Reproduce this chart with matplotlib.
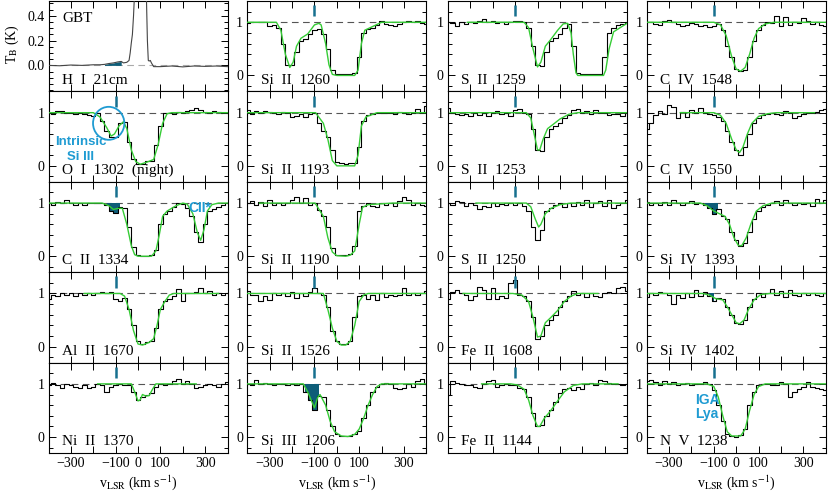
import numpy as np
import matplotlib.pyplot as plt
from matplotlib.patches import Ellipse
from matplotlib.ticker import MultipleLocator, FixedLocator

plt.rcParams['font.family'] = ['Liberation Serif', 'DejaVu Serif']
plt.rcParams['mathtext.fontset'] = 'stix'

GREEN = '#36cc36'
FILL = '#0e5d78'
MARK = '#17708f'
CYAN = '#1f9bd2'
SANS = ['Liberation Sans', 'DejaVu Sans']

# velocity bins (km/s) shared by all UV spectra
VEL = [-400, -380, -360, -340, -320, -300, -280, -260, -240, -220, -200,
       -180, -160, -140, -120, -100, -80, -60, -40, -20, 0,
       20, 40, 60, 80, 100, 120, 140, 160, 180, 200,
       220, 240, 260, 280, 300, 320, 340, 360, 380, 400]

# GBT HI 21cm
hi_vel = [-400, -350, -300, -250, -200, -170, -150, -130, -110, -90, -75, -65, -50, -40, -35,
          -30, -25, -20, -15, -10, 0, 10, 20, 30, 37, 42, 46, 50, 55, 60,
          70, 100, 150, 200, 250, 300, 350, 400]
hi_tb = [0.0, -0.003, 0.003, 0.0, 0.005, 0.005, 0.008, 0.015, 0.02, 0.028, 0.032, 0.02, 0.025, 0.04, 0.1,
         0.18, 0.25, 0.4, 0.6, 1.0, 1.3, 1.4, 1.3, 1.0, 0.6, 0.2, 0.04, 0.035, 0.04, 0.02,
         -0.01, -0.01, -0.005, -0.012, -0.005, -0.008, -0.005, -0.01]

# column 1
o1_1302 = [1.0, 0.97, 1.03, 1.03, 1.0, 1.0, 0.97, 1.0, 0.98, 0.95, 0.93, 1.0, 0.85, 0.65, 0.55, 0.55,
           0.8, 0.82, 0.45, 0.12, 0.04, 0.04, 0.1, 0.1, 0.4, 0.75, 1.0, 1.0, 0.97, 1.02, 1.0,
           1.03, 1.05, 1.08, 1.05, 1.02, 1.0, 1.03, 1.02, 1.0, 1.0]
o1_1302_mv = [-400, -200, -170, -140, -120, -105, -85, -65, -50, -30, -10, 10, 40, 70, 90, 110, 130, 150, 400]
o1_1302_mf = [1.0, 1.0, 0.92, 0.72, 0.56, 0.6, 0.75, 0.83, 0.7, 0.3, 0.08, 0.03, 0.07, 0.12, 0.4, 0.8, 0.98, 1.0, 1.0]

c2_1334 = [1.0, 0.97, 1.02, 1.0, 1.05, 1.0, 0.97, 1.0, 0.97, 1.0, 1.0, 1.0, 1.0, 0.97, 0.85, 0.82,
           0.92, 0.9, 0.55, 0.18, 0.02, 0.01, 0.01, 0.02, 0.12, 0.6, 0.8, 0.85, 0.92, 1.0, 0.98,
           0.9, 0.75, 0.45, 0.27, 0.6, 0.85, 0.88, 0.93, 0.97, 1.0]
c2_1334_mv = [-400, -160, -130, -110, -90, -70, -50, -30, -15, 0, 60, 80, 95, 110, 130, 170, 200,
              220, 245, 265, 280, 295, 310, 330, 360, 400]
c2_1334_mf = [1.0, 1.0, 0.95, 0.88, 0.9, 0.9, 0.6, 0.2, 0.03, 0.0, 0.0, 0.1, 0.4, 0.75, 0.85, 0.95, 1.0,
              0.98, 0.8, 0.45, 0.3, 0.5, 0.85, 0.97, 1.0, 1.0]

al2_1670 = [0.9, 0.97, 0.95, 1.0, 0.97, 1.0, 0.95, 1.0, 0.97, 1.0, 0.98, 1.0, 1.03, 1.0, 1.02, 0.9,
            0.85, 0.92, 0.7, 0.4, 0.1, 0.05, 0.08, 0.1, 0.35, 0.7, 0.85, 0.9, 0.95, 1.08, 0.85,
            1.0, 1.0, 1.02, 1.1, 1.0, 1.05, 0.97, 1.0, 0.97, 1.0]
al2_1670_mv = [-240, -80, -60, -40, -20, 0, 20, 50, 70, 85, 100, 120, 140, 160, 360]
al2_1670_mf = [1.0, 1.0, 0.95, 0.7, 0.3, 0.05, 0.03, 0.08, 0.15, 0.4, 0.7, 0.85, 0.97, 1.0, 1.0]

ni2_1370 = [0.98, 1.02, 0.97, 0.93, 1.0, 0.97, 0.95, 0.93, 0.97, 0.92, 0.95, 1.0, 0.97, 0.85, 0.95, 0.97,
            1.0, 0.97, 0.97, 0.85, 0.7, 0.75, 0.8, 0.82, 0.95, 1.0, 0.98, 1.0, 1.05, 1.1, 1.0,
            1.05, 1.0, 0.93, 0.95, 0.98, 1.0, 0.97, 0.95, 1.0, 1.03]
ni2_1370_mv = [-180, -30, -15, 0, 10, 20, 35, 50, 65, 80, 260]
ni2_1370_mf = [1.0, 1.0, 0.85, 0.68, 0.7, 0.8, 0.77, 0.78, 0.9, 1.0, 1.0]

# column 2
si2_1260 = [0.98, 1.0, 1.0, 1.0, 1.0, 0.93, 0.95, 0.9, 0.6, 0.2, 0.2, 0.45, 0.65, 0.68, 0.78, 0.85,
            0.88, 0.78, 0.5, 0.1, 0.03, 0.02, 0.02, 0.02, 0.05, 0.35, 0.8, 0.88, 0.9, 0.95, 1.02,
            0.97, 0.95, 0.93, 0.97, 1.0, 1.03, 1.0, 1.02, 0.98, 0.97]
si2_1260_mv = [-400, -270, -250, -230, -210, -195, -180, -160, -130, -100, -80, -70, -50, -35, -20, 0,
               80, 95, 110, 125, 160, 200, 400]
si2_1260_mf = [1.0, 1.0, 0.85, 0.4, 0.15, 0.25, 0.55, 0.7, 0.78, 0.95, 0.98, 0.95, 0.6, 0.2, 0.02, 0.0,
               0.0, 0.1, 0.6, 0.85, 0.92, 1.0, 1.0]

si2_1193 = [1.05, 0.97, 1.03, 1.0, 1.04, 1.02, 1.0, 0.98, 1.02, 1.0, 0.92, 0.93, 0.98, 0.92, 0.97, 1.0,
            0.8, 0.65, 0.55, 0.3, 0.08, 0.05, 0.03, 0.05, 0.05, 0.35, 0.85, 0.95, 0.97, 1.0, 1.0,
            1.0, 1.0, 0.97, 1.02, 1.0, 0.97, 1.0, 1.07, 1.0, 1.13]
si2_1193_mv = [-400, -95, -60, -40, -20, 0, 80, 95, 110, 130, 180, 400]
si2_1193_mf = [1.0, 1.0, 0.8, 0.5, 0.1, 0.0, 0.0, 0.2, 0.75, 0.92, 1.0, 1.0]

si2_1190 = [1.0, 1.03, 0.97, 1.02, 0.95, 1.05, 0.97, 1.0, 0.97, 1.0, 1.05, 1.12, 1.0, 1.1, 0.97, 1.0,
            0.87, 0.75, 0.55, 0.15, 0.03, 0.02, 0.02, 0.05, 0.2, 0.85, 0.95, 1.0, 0.95, 0.92, 1.0,
            0.97, 1.0, 0.95, 1.03, 1.12, 1.05, 0.97, 1.0, 0.97, 0.95]
si2_1190_mv = [-345, -97, -60, -40, -20, 0, 40, 60, 80, 100, 115, 140, 250, 400]
si2_1190_mf = [1.0, 1.0, 0.75, 0.35, 0.08, 0.01, 0.0, 0.02, 0.1, 0.6, 0.92, 0.97, 1.0, 1.0]

si2_1526 = [1.05, 0.98, 0.97, 0.85, 0.95, 0.88, 1.0, 0.97, 1.0, 0.95, 1.03, 0.92, 1.0, 0.95, 1.03, 1.1,
            1.0, 0.97, 0.75, 0.3, 0.1, 0.05, 0.05, 0.1, 0.55, 0.95, 0.97, 0.9, 0.97, 0.88, 1.0,
            0.93, 0.98, 0.95, 0.98, 1.1, 0.97, 1.0, 0.97, 1.0, 1.05]
si2_1526_mv = [-400, -60, -40, -20, 0, 20, 40, 60, 80, 100, 120, 140, 400]
si2_1526_mf = [1.0, 1.0, 0.7, 0.35, 0.1, 0.03, 0.03, 0.1, 0.4, 0.85, 0.97, 1.0, 1.0]

si3_1206 = [1.0, 0.97, 1.08, 1.0, 1.02, 1.0, 0.98, 1.0, 1.0, 0.97, 1.0, 0.97, 1.0, 0.85, 0.7, 0.5,
            0.78, 0.75, 0.5, 0.2, 0.05, 0.02, 0.02, 0.02, 0.05, 0.12, 0.35, 0.6, 0.85, 0.95, 1.0,
            1.02, 1.0, 0.93, 0.9, 0.93, 1.0, 0.95, 1.05, 1.1, 1.0]
si3_1206_mv = [-400, -150, -130, -100, -85, -75, -50, -30, -10, 20, 50, 80, 100, 120, 140, 160, 180, 200, 400]
si3_1206_mf = [1.0, 1.0, 0.85, 0.55, 0.75, 0.8, 0.6, 0.3, 0.1, 0.02, 0.01, 0.05, 0.15, 0.35, 0.6, 0.8, 0.95, 1.0, 1.0]

# column 3
s2_1259 = [1.0, 0.98, 0.93, 1.0, 0.97, 1.0, 0.98, 1.03, 1.07, 1.0, 1.03, 0.98, 1.0, 0.97, 1.0, 1.03,
           1.02, 1.0, 0.9, 0.55, 0.2, 0.18, 0.45, 0.65, 0.7, 0.78, 0.9, 0.97, 0.55, 0.05, 0.02,
           0.02, 0.02, 0.03, 0.03, 0.35, 0.8, 0.9, 0.95, 0.97, 1.0]
s2_1259_mv = [-313, -60, -40, -20, 0, 15, 35, 60, 90, 115, 135, 150, 160, 172, 180, 295, 305, 320, 340, 370, 400]
s2_1259_mf = [1.0, 1.0, 0.9, 0.5, 0.16, 0.25, 0.55, 0.68, 0.85, 0.97, 0.98, 0.8, 0.4, 0.05, 0.0, 0.0,
              0.1, 0.5, 0.82, 0.9, 0.98]

s2_1253 = [1.08, 1.0, 0.97, 0.95, 0.97, 0.93, 1.0, 0.95, 1.0, 0.93, 1.0, 1.03, 0.97, 1.0, 0.93, 1.05,
           1.07, 1.0, 0.97, 0.7, 0.3, 0.28, 0.55, 0.7, 0.75, 0.8, 0.9, 0.95, 1.05, 1.07, 1.0,
           1.03, 0.97, 1.05, 1.0, 1.0, 0.95, 0.97, 0.98, 0.93, 1.0]
s2_1253_mv = [-390, -50, -30, -15, 0, 10, 25, 45, 70, 100, 140, 180, 400]
s2_1253_mf = [1.0, 1.0, 0.9, 0.6, 0.3, 0.3, 0.5, 0.7, 0.78, 0.88, 0.97, 1.0, 1.0]

s2_1250 = [1.0, 0.97, 1.03, 1.02, 0.95, 1.0, 0.97, 0.88, 0.95, 0.93, 1.0, 0.95, 0.98, 0.97, 1.0, 0.97,
           1.0, 0.95, 0.85, 0.55, 0.3, 0.5, 0.85, 0.9, 0.97, 1.0, 0.93, 1.0, 0.95, 1.02, 0.97,
           1.05, 0.93, 1.0, 1.03, 0.95, 1.05, 0.9, 0.97, 1.0, 1.05]
s2_1250_mv = [-275, -50, -30, -10, 5, 15, 35, 60, 100, 150, 400]
s2_1250_mf = [1.0, 1.0, 0.93, 0.7, 0.55, 0.6, 0.8, 0.9, 0.97, 1.0, 1.0]

fe2_1608 = [0.9, 1.03, 1.07, 1.0, 0.97, 0.88, 0.95, 1.12, 1.07, 0.9, 1.1, 0.9, 0.95, 0.92, 1.2, 1.25,
            0.97, 0.95, 0.85, 0.55, 0.15, 0.2, 0.4, 0.5, 0.6, 0.75, 0.85, 0.95, 1.05, 0.97, 1.0,
            0.93, 1.0, 0.95, 0.93, 1.0, 1.03, 1.0, 1.1, 1.13, 1.05]
fe2_1608_mv = [-333, -110, -70, -40, -20, 0, 15, 35, 60, 90, 120, 150, 180, 270]
fe2_1608_mf = [1.0, 1.0, 0.97, 0.85, 0.55, 0.18, 0.2, 0.45, 0.55, 0.68, 0.85, 0.95, 1.0, 1.0]

fe2_1144 = [0.8, 1.05, 1.02, 1.0, 0.97, 0.97, 0.95, 0.93, 1.0, 1.05, 1.08, 0.95, 0.97, 1.0, 0.97, 0.97,
            0.92, 0.9, 0.75, 0.45, 0.2, 0.22, 0.4, 0.5, 0.65, 0.82, 0.9, 0.93, 0.88, 0.95, 0.9,
            1.0, 1.02, 0.97, 1.08, 1.05, 1.02, 1.0, 1.0, 0.98, 1.0]
fe2_1144_mv = [-250, -120, -90, -60, -40, -20, 0, 10, 30, 60, 90, 120, 160, 200, 360]
fe2_1144_mf = [1.0, 1.0, 0.98, 0.9, 0.7, 0.4, 0.2, 0.2, 0.35, 0.5, 0.68, 0.85, 0.97, 1.0, 1.0]

# column 4
c4_1548 = [1.0, 1.0, 0.97, 0.95, 1.02, 1.05, 1.0, 0.97, 0.93, 0.95, 0.98, 0.97, 0.93, 0.95, 0.92, 0.93,
           0.97, 0.85, 0.55, 0.35, 0.12, 0.08, 0.1, 0.35, 0.65, 0.85, 0.95, 1.0, 0.98, 1.12, 0.93,
           1.1, 0.95, 1.0, 0.98, 1.08, 1.02, 0.97, 1.0, 0.95, 0.93]
c4_1548_mv = [-400, -100, -70, -45, -20, 0, 20, 40, 60, 80, 100, 130, 170, 400]
c4_1548_mf = [1.0, 1.0, 0.95, 0.75, 0.35, 0.12, 0.08, 0.15, 0.4, 0.7, 0.88, 0.97, 1.0, 1.0]

c4_1550 = [0.7, 0.8, 0.95, 1.03, 0.98, 1.15, 1.1, 0.9, 1.02, 0.92, 1.05, 1.0, 1.08, 1.0, 0.97, 0.95,
           0.92, 0.85, 0.65, 0.45, 0.3, 0.2, 0.35, 0.6, 0.8, 0.9, 0.95, 0.97, 1.0, 0.98, 0.95,
           1.03, 1.0, 0.9, 0.93, 0.98, 1.0, 1.0, 1.02, 1.05, 1.07]
c4_1550_mv = [-250, -100, -70, -45, -20, 0, 15, 30, 50, 70, 100, 140, 180, 350]
c4_1550_mf = [1.0, 1.0, 0.95, 0.8, 0.5, 0.3, 0.25, 0.35, 0.6, 0.8, 0.93, 0.98, 1.0, 1.0]

si4_1393 = [1.02, 0.97, 1.0, 0.97, 1.02, 0.97, 1.05, 1.0, 0.97, 1.0, 1.03, 0.98, 1.0, 0.97, 0.9, 0.8,
            0.88, 0.75, 0.7, 0.45, 0.3, 0.2, 0.25, 0.45, 0.7, 0.85, 0.93, 0.97, 1.0, 1.03, 0.97,
            1.05, 1.0, 0.97, 1.0, 0.98, 1.0, 0.95, 1.07, 1.0, 1.05]
si4_1393_mv = [-400, -160, -130, -100, -75, -50, -30, -10, 10, 25, 45, 65, 90, 120, 160, 400]
si4_1393_mf = [1.0, 1.0, 0.95, 0.85, 0.8, 0.75, 0.6, 0.35, 0.2, 0.2, 0.35, 0.6, 0.85, 0.95, 1.0, 1.0]

si4_1402 = [0.93, 1.0, 0.97, 1.03, 1.0, 0.97, 0.8, 0.97, 0.92, 1.0, 0.93, 1.07, 0.95, 1.03, 0.95, 0.85,
            0.92, 0.9, 0.75, 0.6, 0.45, 0.42, 0.5, 0.75, 0.9, 1.0, 0.93, 1.0, 1.08, 0.97, 1.05,
            0.93, 1.07, 0.97, 0.95, 1.0, 0.98, 1.0, 0.97, 0.95, 1.0]
si4_1402_mv = [-400, -150, -120, -90, -60, -40, -20, 0, 15, 35, 55, 80, 110, 150, 400]
si4_1402_mf = [1.0, 1.0, 0.97, 0.9, 0.88, 0.75, 0.6, 0.45, 0.43, 0.5, 0.7, 0.88, 0.98, 1.0, 1.0]

n5_1238 = [1.05, 1.08, 1.03, 0.98, 1.05, 1.0, 1.03, 0.98, 1.0, 1.02, 0.97, 1.0, 1.0, 1.03, 1.0, 0.88,
           0.6, 0.3, 0.05, 0.02, 0.01, 0.03, 0.15, 0.6, 0.85, 0.97, 1.0, 1.0, 0.97, 0.98, 1.03,
           1.0, 0.75, 0.85, 0.9, 0.95, 1.03, 0.95, 0.93, 0.9, 0.88]
n5_1238_mv = [-400, -130, -100, -80, -60, -40, -20, 20, 40, 60, 80, 100, 130, 400]
n5_1238_mf = [1.0, 1.0, 0.95, 0.75, 0.4, 0.1, 0.02, 0.02, 0.15, 0.5, 0.8, 0.95, 1.0, 1.0]

# (column, row, label, flux, model v, model f, shaded velocity range)
panels = [
    (0, 1, 'O  I  1302  (night)', o1_1302, o1_1302_mv, o1_1302_mf, None),
    (0, 2, 'C  II  1334', c2_1334, c2_1334_mv, c2_1334_mf, (-140, -70)),
    (0, 3, 'Al  II  1670', al2_1670, al2_1670_mv, al2_1670_mf, None),
    (0, 4, 'Ni  II  1370', ni2_1370, ni2_1370_mv, ni2_1370_mf, None),
    (1, 0, 'Si  II  1260', si2_1260, si2_1260_mv, si2_1260_mf, None),
    (1, 1, 'Si  II  1193', si2_1193, si2_1193_mv, si2_1193_mf, None),
    (1, 2, 'Si  II  1190', si2_1190, si2_1190_mv, si2_1190_mf, None),
    (1, 3, 'Si  II  1526', si2_1526, si2_1526_mv, si2_1526_mf, None),
    (1, 4, 'Si  III  1206', si3_1206, si3_1206_mv, si3_1206_mf, (-140, -70)),
    (2, 0, 'S  II  1259', s2_1259, s2_1259_mv, s2_1259_mf, None),
    (2, 1, 'S  II  1253', s2_1253, s2_1253_mv, s2_1253_mf, None),
    (2, 2, 'S  II  1250', s2_1250, s2_1250_mv, s2_1250_mf, None),
    (2, 3, 'Fe  II  1608', fe2_1608, fe2_1608_mv, fe2_1608_mf, None),
    (2, 4, 'Fe  II  1144', fe2_1144, fe2_1144_mv, fe2_1144_mf, None),
    (3, 0, 'C  IV  1548', c4_1548, c4_1548_mv, c4_1548_mf, None),
    (3, 1, 'C  IV  1550', c4_1550, c4_1550_mv, c4_1550_mf, None),
    (3, 2, 'Si  IV  1393', si4_1393, si4_1393_mv, si4_1393_mf, (-140, -75)),
    (3, 3, 'Si  IV  1402', si4_1402, si4_1402_mv, si4_1402_mf, (-120, -90)),
    (3, 4, 'N  V  1238', n5_1238, n5_1238_mv, n5_1238_mf, None),
]

W, H = 830.0, 491.0
col_left = [48.5, 247.3, 448.0, 646.7]
row_top = [1.0, 91.4, 181.8, 272.2, 362.6]
pw, ph = 179.0, 90.4

fig = plt.figure(figsize=(8.3, 4.91), dpi=100)


def make_ax(c, r):
    ax = fig.add_axes([col_left[c] / W, 1 - (row_top[r] + ph) / H, pw / W, ph / H])
    ax.set_xlim(-400, 400)
    ax.set_xticks(range(-400, 401, 100))
    ax.tick_params(which='both', direction='in', top=True, right=True, labelsize=10,
                   width=0.7, pad=3)
    ax.tick_params(which='major', length=5)
    ax.tick_params(which='minor', length=3)
    for s in ax.spines.values():
        s.set_linewidth(0.8)
    if r == 4 and c != 2:
        ax.set_xticklabels(['', '\u2212300', '', '\u2212100', '0', '100', '', '300', ''])
        ax.set_xlabel(r'v$_{\rm LSR}$ (km s$^{-1}$)', fontsize=10, labelpad=2)
    else:
        ax.set_xticklabels([])
    return ax


# HI 21cm panel
ax = make_ax(0, 0)
ax.axhline(0, color='#aaaaaa', lw=0.8, dashes=(6, 4), zorder=1)
hv, ht = np.array(hi_vel), np.array(hi_tb)
ax.fill_between(hv, 0, ht, where=(hv >= -150) & (hv <= -75), color=FILL, lw=0, zorder=2)
ax.plot(hv, ht, color='#444444', lw=0.8, zorder=3)
ax.set_ylim(-0.21, 0.52)
ax.yaxis.set_major_locator(FixedLocator([0.0, 0.2, 0.4]))
ax.set_yticklabels(['0.0', '0.2', '0.4'])
ax.yaxis.set_minor_locator(MultipleLocator(0.05))
ax.text(0.075, 0.81, 'GBT', transform=ax.transAxes, fontsize=11, va='center')
ax.text(0.075, 0.12, 'H  I  21cm', transform=ax.transAxes, fontsize=11, va='center')
fig.text(12 / W, 1 - 44 / H, r'T$_{\rm B}$ (K)', rotation=90, ha='center', va='center', fontsize=10)

axes = {}
for c, r, label, flux, mv, mf, shade in panels:
    ax = make_ax(c, r)
    axes[(c, r)] = ax
    v, f = np.array(VEL), np.array(flux)
    ax.axhline(1, color='#555555', lw=0.8, dashes=(6, 4), zorder=1)
    if shade:
        m = (v >= shade[0]) & (v <= shade[1])
        ax.fill_between(v, np.minimum(f, 1), 1, where=m, step='mid', color=FILL, lw=0, zorder=2)
    ax.step(v, f, where='mid', color='k', lw=0.8, zorder=3)
    ax.plot(mv, mf, color=GREEN, lw=1.0, zorder=4)
    ax.plot([-100, -100], [1.11, 1.32], color=MARK, lw=1.8, solid_capstyle='butt', zorder=5)
    ax.set_ylim(-0.3, 1.4)
    ax.yaxis.set_major_locator(FixedLocator([0, 1]))
    ax.set_yticklabels(['0', '1'])
    ax.yaxis.set_minor_locator(MultipleLocator(0.2))
    ax.text(0.075, 0.125, label, transform=ax.transAxes, fontsize=11, va='center')

# annotations
ax = axes[(0, 1)]
ax.add_patch(Ellipse((-131, 0.8), 140, 0.62, fill=False, ec=CYAN, lw=1.3, zorder=6))
ax.text(-255, 0.44, 'Intrinsic', color=CYAN, fontsize=9.5, fontweight='bold',
        family=SANS, ha='center', va='center')
ax.text(-255, 0.17, 'Si III', color=CYAN, fontsize=9.5, fontweight='bold',
        family=SANS, ha='center', va='center')

ax = axes[(0, 2)]
ax.text(275, 0.9, 'CII*', color=CYAN, fontsize=10, fontweight='bold',
        family=SANS, ha='center', va='center', zorder=6)

ax = axes[(3, 4)]
ax.text(-130, 0.7, 'IGA', color=CYAN, fontsize=10, fontweight='bold',
        family=SANS, ha='center', va='center')
ax.text(-130, 0.43, 'Lya', color=CYAN, fontsize=10, fontweight='bold',
        family=SANS, ha='center', va='center')

fig.savefig('out.png', dpi=100)
